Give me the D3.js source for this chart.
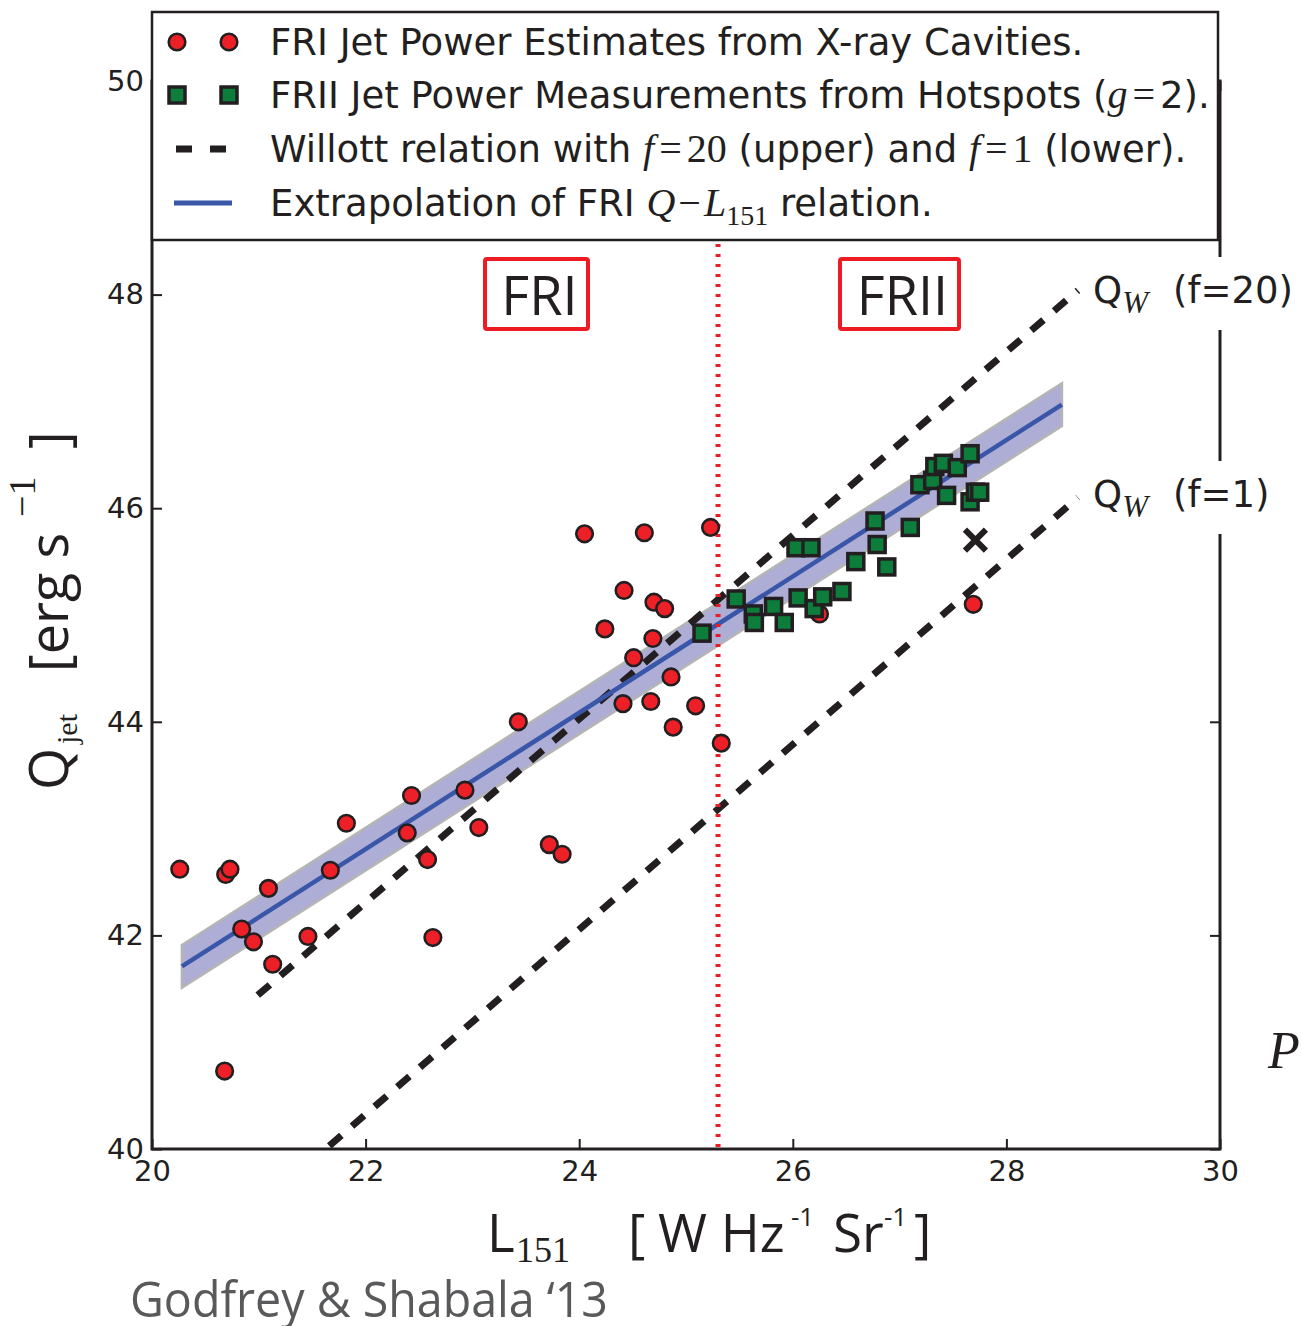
<!DOCTYPE html>
<html><head><meta charset="utf-8">
<script src="https://cdn.jsdelivr.net/npm/d3@7"></script>
<style>
body{margin:0;background:#fff;}
svg{display:block;}
</style></head>
<body><svg id="chart" width="1301" height="1326"></svg>
<script>
// ---------- data ----------
const xTicks = [20, 22, 24, 26, 28, 30];
const yTicks = [40, 42, 44, 46, 48, 50];

// FRI jet powers from X-ray cavities
const friL = [20.26, 20.69, 20.73, 21.09, 20.84, 20.95, 21.13, 20.68, 21.46, 21.67, 21.82, 22.39, 22.43, 22.58, 22.63, 22.93, 23.06, 23.43, 23.72, 23.84, 24.05, 24.24, 24.42, 24.41, 24.51, 24.61, 24.67, 24.69, 24.70, 24.80, 24.86, 24.88, 25.09, 25.23, 25.33, 26.25, 27.69];
const friQ = [42.62, 42.57, 42.62, 42.44, 42.06, 41.94, 41.73, 40.73, 41.99, 42.61, 43.05, 42.96, 43.31, 42.71, 41.98, 43.36, 43.01, 44.00, 42.85, 42.76, 45.76, 44.87, 45.23, 44.17, 44.60, 45.77, 44.19, 44.78, 45.12, 45.06, 44.42, 43.95, 44.15, 45.82, 43.80, 45.01, 45.10];

// FRII jet powers from hotspots (g = 2)
const friiL = [25.15, 25.47, 25.63, 25.64, 25.82, 25.92, 26.05, 26.20, 26.28, 26.46, 26.03, 26.17, 26.59, 26.77, 26.79, 26.88, 27.10, 27.19, 27.31, 27.33, 27.41, 27.54, 27.44, 27.66, 27.66, 27.71, 27.75];
const friiQ = [44.83, 45.15, 45.01, 44.93, 45.08, 44.93, 45.16, 45.06, 45.17, 45.22, 45.63, 45.63, 45.50, 45.88, 45.66, 45.45, 45.82, 46.22, 46.26, 46.39, 46.42, 46.38, 46.12, 46.51, 46.06, 46.15, 46.15];

// single cross marker
const crossL = [27.71];
const crossQ = [45.70];

// extrapolated FRI Q-L151 relation and its band
const fitL = [20.28, 28.52];
const fitQ = [41.71, 46.97];
const fitLo = [41.51, 46.77];
const fitHi = [41.91, 47.17];

// Willott relations
const willUpperL = [20.99, 28.67];
const willUpperQ = [41.44, 48.04];
const willLowerL = [21.66, 28.67];
const willLowerQ = [40.03, 46.10];

// FRI / FRII divide
const divideL = [25.30];

// ---------- layout ----------
const svg = d3.select("#chart");
const X0 = 152, X1 = 1220, Y0 = 81, Y1 = 1149;
const x = d3.scaleLinear().domain([20, 30]).range([X0, X1]);
const y = d3.scaleLinear().domain([40, 50]).range([Y1, Y0]);
const ink = "#231f20";
const SANS = "'DejaVu Sans', sans-serif";
const SERIF = "'Liberation Serif', 'DejaVu Serif', serif";
const MYR = "'Open Sans', 'Noto Sans', sans-serif";

svg.append("defs").append("clipPath").attr("id", "clip")
  .append("rect").attr("x", X0).attr("y", Y0).attr("width", X1 - X0).attr("height", Y1 - Y0);
const plot = svg.append("g").attr("clip-path", "url(#clip)");

// band
const bandPts = fitL.map((l, i) => [x(l), y(fitHi[i])]).concat(fitL.map((l, i) => [x(l), y(fitLo[i])]).reverse());
plot.append("path").attr("d", "M" + bandPts.join("L") + "Z")
  .attr("fill", "#adadd6").attr("stroke", "#b5b5b5").attr("stroke-width", 2.5);

// willott dashed
const line = d3.line().x(d => x(d[0])).y(d => y(d[1]));
[[willUpperL, willUpperQ], [willLowerL, willLowerQ]].forEach(([L, Q]) => {
  plot.append("path").attr("d", line(L.map((l, i) => [l, Q[i]])))
    .attr("fill", "none").attr("stroke", ink).attr("stroke-width", 7)
    .attr("stroke-dasharray", "16,14");
});

// blue fit line
plot.append("path").attr("d", line(fitL.map((l, i) => [l, fitQ[i]])))
  .attr("fill", "none").attr("stroke", "#3a56a8").attr("stroke-width", 4.5);

// red dotted divide
plot.selectAll(".divide").data(divideL).enter().append("line")
  .attr("x1", d => x(d)).attr("x2", d => x(d)).attr("y1", 244).attr("y2", Y1)
  .attr("stroke", "#ed1c24").attr("stroke-width", 5).attr("stroke-dasharray", "3,7");

// red circles
plot.selectAll(".fri").data(friL).enter().append("circle")
  .attr("cx", d => x(d)).attr("cy", (d, i) => y(friQ[i])).attr("r", 8.3)
  .attr("fill", "#ee2027").attr("stroke", ink).attr("stroke-width", 2.6);

// green squares
const sq = 16;
plot.selectAll(".frii").data(friiL).enter().append("rect")
  .attr("x", d => x(d) - sq / 2).attr("y", (d, i) => y(friiQ[i]) - sq / 2)
  .attr("width", sq).attr("height", sq)
  .attr("fill", "#0d7d3c").attr("stroke", ink).attr("stroke-width", 3.5);

// cross
crossL.forEach((l, i) => {
  const cx = x(l), cy = y(crossQ[i]), h = 10.5;
  plot.append("path").attr("d", `M${cx - h},${cy - h}L${cx + h},${cy + h}M${cx - h},${cy + h}L${cx + h},${cy - h}`)
    .attr("stroke", ink).attr("stroke-width", 6);
});

// ---------- axes ----------
const axFont = g => g.selectAll("text").attr("font-family", SANS).attr("font-size", 29).attr("fill", ink);
const axLine = g => { g.select(".domain").remove(); g.selectAll(".tick line").attr("stroke", ink).attr("stroke-width", 2); };

svg.append("g").attr("transform", `translate(0,${Y1})`)
  .call(d3.axisBottom(x).tickValues(xTicks).tickSize(-10).tickPadding(11).tickFormat(d3.format("d")))
  .call(axLine).call(axFont);
svg.append("g").attr("transform", `translate(${X0},0)`)
  .call(d3.axisLeft(y).tickValues(yTicks).tickSize(-10).tickPadding(8).tickFormat(d3.format("d")))
  .call(axLine).call(axFont);
svg.append("g").attr("transform", `translate(${X1},0)`)
  .call(d3.axisRight(y).tickValues(yTicks).tickSize(-10).tickFormat(""))
  .call(axLine);
svg.append("g").attr("transform", `translate(0,${Y0})`)
  .call(d3.axisTop(x).tickValues(xTicks).tickSize(-10).tickFormat(""))
  .call(axLine);

// spines
svg.append("rect").attr("x", X0).attr("y", Y0).attr("width", X1 - X0).attr("height", Y1 - Y0)
  .attr("fill", "none").attr("stroke", ink).attr("stroke-width", 3);

// ---------- Q_W labels ----------
[[257, "(f=20)"], [461, "(f=1)"]].forEach(([top, lab]) => {
  svg.append("rect").attr("x", 1084).attr("y", top).attr("width", 217).attr("height", 73).attr("fill", "#fff");
  const t = svg.append("text").attr("x", 1093).attr("y", top + 46).attr("font-family", SANS).attr("font-size", 37).attr("fill", ink);
  t.append("tspan").text("Q");
  t.append("tspan").attr("font-family", SERIF).attr("font-style", "italic").attr("font-size", 31).attr("dy", 10).text("W");
  t.append("tspan").attr("x", 1173).attr("dy", -10).text(lab);
});

// ---------- FRI / FRII boxes ----------
[["FRI", 485, 103], ["FRII", 840, 119]].forEach(([lab, bx, bw]) => {
  svg.append("rect").attr("x", bx).attr("y", 259).attr("width", bw).attr("height", 70).attr("rx", 2)
    .attr("fill", "#fff").attr("stroke", "#ed1c24").attr("stroke-width", 4);
  svg.append("text").attr("x", bx + bw / 2 + 3).attr("y", 315).attr("text-anchor", "middle")
    .attr("font-family", MYR).attr("font-size", 54).attr("fill", ink).text(lab);
});

// ---------- legend ----------
svg.append("rect").attr("x", X0).attr("y", 12).attr("width", 1066).attr("height", 228)
  .attr("fill", "#fff").attr("stroke", ink).attr("stroke-width", 2.5);
const rows = [42, 95, 149, 203];
[177, 229].forEach(cx => {
  svg.append("circle").attr("cx", cx).attr("cy", rows[0]).attr("r", 8.3)
    .attr("fill", "#ee2027").attr("stroke", ink).attr("stroke-width", 2.6);
  svg.append("rect").attr("x", cx - sq / 2).attr("y", rows[1] - sq / 2).attr("width", sq).attr("height", sq)
    .attr("fill", "#0d7d3c").attr("stroke", ink).attr("stroke-width", 3.5);
});
svg.append("line").attr("x1", 176).attr("x2", 226).attr("y1", rows[2]).attr("y2", rows[2])
  .attr("stroke", ink).attr("stroke-width", 7).attr("stroke-dasharray", "16,18");
svg.append("line").attr("x1", 174).attr("x2", 232).attr("y1", rows[3]).attr("y2", rows[3])
  .attr("stroke", "#3a56a8").attr("stroke-width", 5);

const leg = (i) => svg.append("text").attr("x", 270).attr("y", rows[i] + 13)
  .attr("font-family", SANS).attr("font-size", 37).attr("fill", ink);
const m = (t, s, it, extra) => {
  const sp = t.append("tspan").attr("font-family", SERIF).attr("font-size", 40).text(s);
  if (it) sp.attr("font-style", "italic");
  if (extra) extra(sp);
  return sp;
};
leg(0).text("FRI Jet Power Estimates from X-ray Cavities.");
{
  const t = leg(1);
  t.append("tspan").text("FRII Jet Power Measurements from Hotspots (");
  m(t, "g", true);
  m(t, "=", false, s => s.attr("dx", 5));
  t.append("tspan").attr("dx", 5).text("2).");
}
{
  const t = leg(2);
  t.append("tspan").text("Willott relation with ");
  m(t, "f", true);
  m(t, "=", false, s => s.attr("dx", 5));
  m(t, "20", false, s => s.attr("dx", 5));
  t.append("tspan").text(" (upper) and ");
  m(t, "f", true);
  m(t, "=", false, s => s.attr("dx", 5));
  m(t, "1", false, s => s.attr("dx", 5));
  t.append("tspan").text(" (lower).");
}
{
  const t = leg(3);
  t.append("tspan").text("Extrapolation of FRI ");
  m(t, "Q", true);
  m(t, "\u2212", false, s => s.attr("dx", 3));
  m(t, "L", true, s => s.attr("dx", 3));
  t.append("tspan").attr("font-family", SERIF).attr("font-size", 28).attr("dy", 9).text("151");
  t.append("tspan").attr("dy", -9).text(" relation.");
}

// ---------- axis titles ----------
{
  const t = svg.append("text").attr("transform", "translate(68,0) rotate(-90)")
    .attr("font-family", MYR).attr("font-size", 54).attr("fill", ink);
  t.append("tspan").attr("x", -790).attr("y", 0).text("Q");
  t.append("tspan").attr("x", -744).attr("y", 9).attr("font-family", SERIF).attr("font-size", 30).text("jet");
  t.append("tspan").attr("x", -672).attr("y", 0).text("[erg s");
  t.append("tspan").attr("x", -517).attr("y", -33).attr("font-family", SERIF).attr("font-size", 38).text("\u22121");
  t.append("tspan").attr("x", -449).attr("y", 0).text("]");
}
{
  const t = svg.append("text").attr("font-family", MYR).attr("font-size", 53).attr("fill", ink);
  t.append("tspan").attr("x", 487).attr("y", 1252).text("L");
  t.append("tspan").attr("x", 516).attr("y", 1262).attr("font-family", SERIF).attr("font-size", 36).text("151");
  t.append("tspan").attr("x", 628).attr("y", 1252).text("[");
  t.append("tspan").attr("x", 658).attr("y", 1252).text("W Hz");
  t.append("tspan").attr("x", 791).attr("y", 1226).attr("font-size", 26).text("-1");
  t.append("tspan").attr("x", 833).attr("y", 1252).text("Sr");
  t.append("tspan").attr("x", 884).attr("y", 1226).attr("font-size", 26).text("-1");
  t.append("tspan").attr("x", 914).attr("y", 1252).text("]");
}

// ---------- credit & fragment ----------
svg.append("text").attr("x", 130).attr("y", 1317).attr("font-family", MYR).attr("font-size", 50)
  .attr("fill", "#58595b").attr("textLength", 478).attr("lengthAdjust", "spacingAndGlyphs")
  .text("Godfrey & Shabala \u201813");
svg.append("text").attr("x", 1268).attr("y", 1068).attr("font-family", SERIF).attr("font-style", "italic")
  .attr("font-size", 52).attr("fill", ink).text("P");
</script>
</body></html>
